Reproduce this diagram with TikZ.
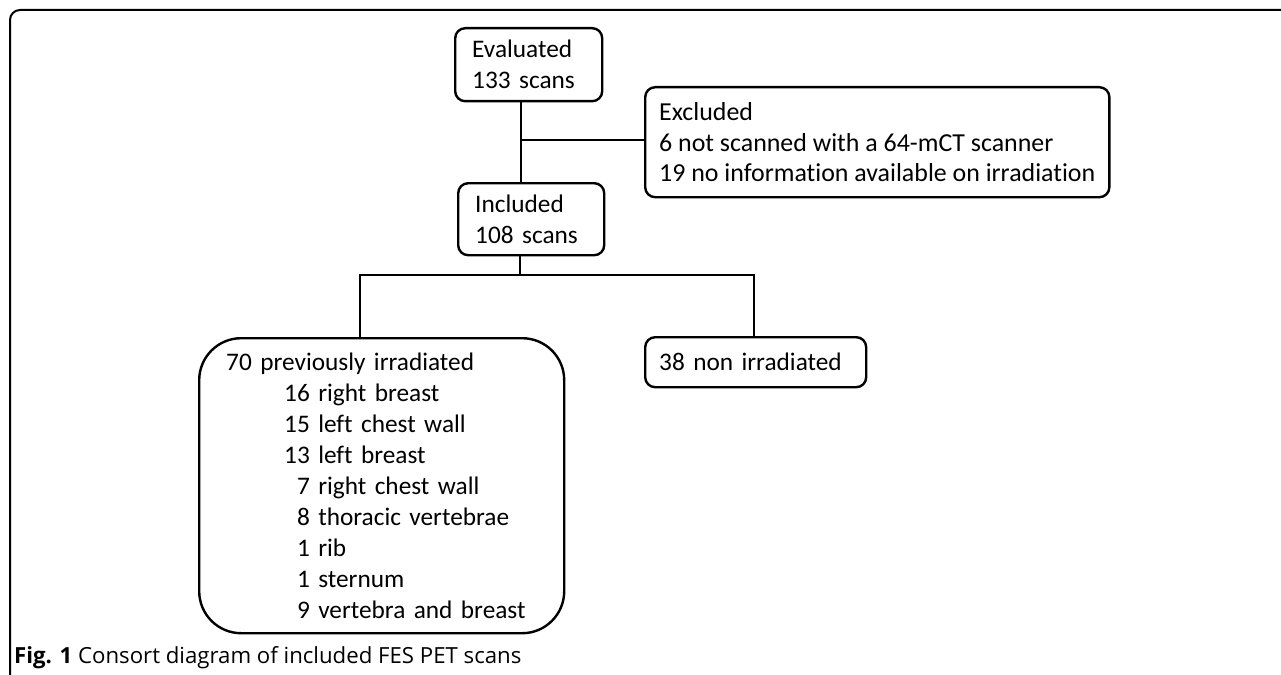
\documentclass[tikz,border=0pt]{standalone}
\usepackage{fontspec}
\setmainfont{Carlito}[Ligatures=NoCommon]
\newfontfamily\capfont{Open Sans}
\hyphenpenalty=10000
\exhyphenpenalty=10000
\begin{document}
\begin{tikzpicture}[x=1pt,y=-1pt,
  box/.style={draw=black, line width=2.4pt, rounded corners=10pt, anchor=north west,
    inner ysep=0pt, inner xsep=14pt, align=left,
    font=\fontsize{25.3pt}{31pt}\selectfont},
  link/.style={draw=black, line width=2.4pt},
  frame/.style={draw=black, line width=2pt, rounded corners=10pt}]
\useasboundingbox (0,0) rectangle (1281,674);
% outer frame (open at right and bottom)
\draw[frame] (1290,10) -- (10,10) -- (10,690);
% boxes
\node[box, minimum width=147pt, minimum height=73pt, text width=113pt, inner xsep=17pt] (eval) at (454,27) {Evaluated\\133 scans};
\node[box, minimum width=461pt, minimum height=110pt, font=\fontsize{25.9pt}{30.5pt}\selectfont] (excl) at (644,86) {Excluded\\6 not scanned with a 64-mCT scanner\\19 no information available on irradiation};
\node[box, minimum width=146pt, minimum height=72pt, text width=112pt, inner xsep=17pt] (incl) at (457,182) {Included\\108 scans};
\node[box, rounded corners=42pt, minimum width=365pt, minimum height=295pt, text width=311pt, inner xsep=27pt] (irr) at (198,337) {70 previously irradiated\\
\hspace*{58pt}16 right breast\\
\hspace*{58pt}15 left chest wall\\
\hspace*{58pt}13 left breast\\
\hspace*{58pt}\hphantom{0}7 right chest wall\\
\hspace*{58pt}\hphantom{0}8 thoracic vertebrae\\
\hspace*{58pt}\hphantom{0}1 rib\\
\hspace*{58pt}\hphantom{0}1 sternum\\
\hspace*{58pt}\hphantom{0}9 vertebra and breast};
\node[box, minimum width=221pt, minimum height=50pt, text width=193pt] (non) at (644,336) {38 non irradiated};
% junction coordinates
\coordinate (j1) at (521,140);
\coordinate (j2) at (520,275);
\coordinate (bl) at (360,275);
\coordinate (br) at (754,275);
% connectors
\draw[link] (j1 |- eval.south) -- (j1 |- incl.north);
\draw[link] (j1) -- (j1 -| excl.west);
\draw[link] (j2 |- incl.south) -- (j2);
\draw[link] (bl |- irr.north) -- (bl) -- (br) -- (br |- non.north);
% caption
\node[anchor=west, inner sep=0pt, font=\capfont\fontsize{22.2pt}{26pt}\selectfont] (cap) at (14,658) {\textbf{Fig. 1} Consort diagram of included FES PET scans};
\end{tikzpicture}
\end{document}
